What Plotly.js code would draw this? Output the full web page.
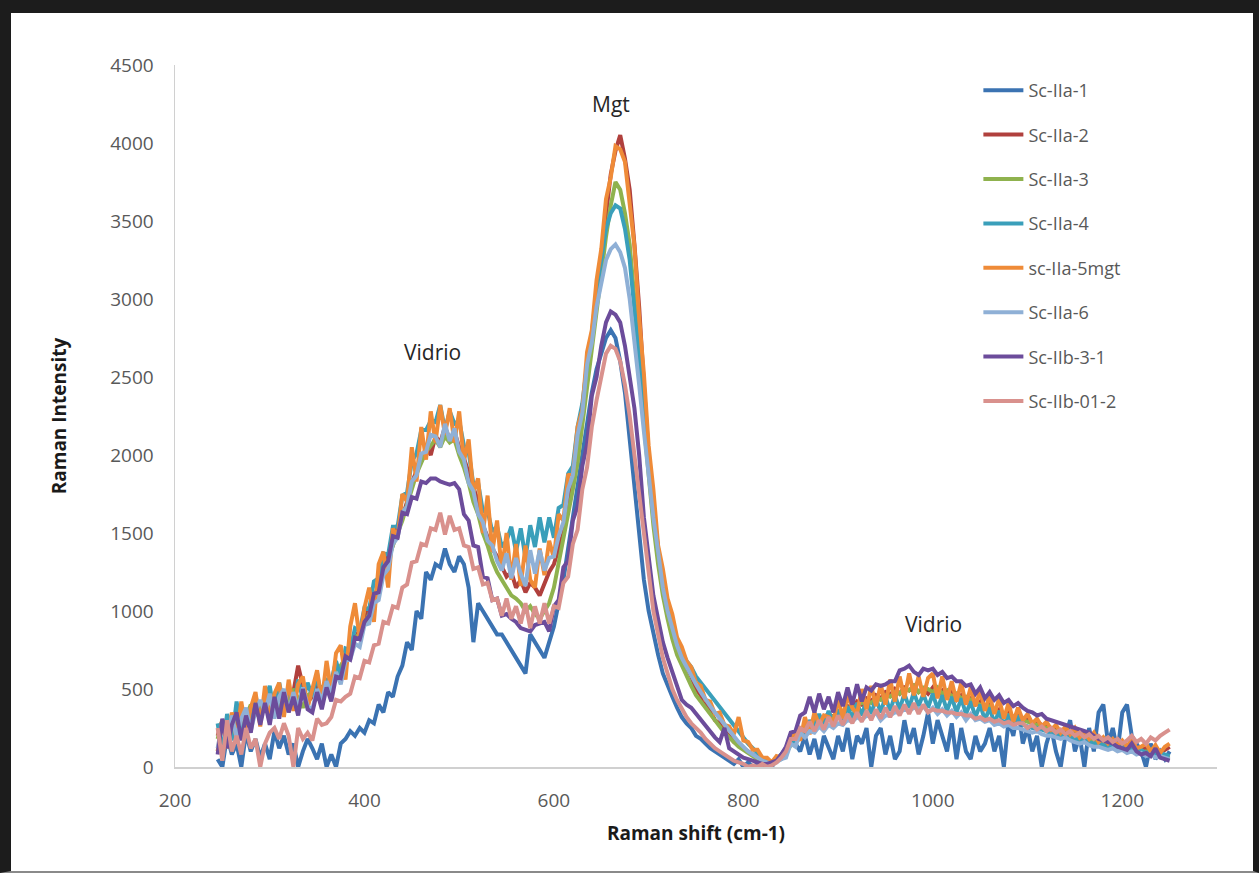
<!DOCTYPE html>
<html>
<head>
<meta charset="utf-8">
<script src="https://cdn.plot.ly/plotly-3.0.1.min.js"></script>
<style>
  html, body { margin: 0; padding: 0; background: #ffffff; }
  #wrap { position: relative; width: 1259px; height: 873px; overflow: hidden; }
  #chart { position: absolute; left: 0; top: 0; width: 1259px; height: 873px; }
  #frame { position: absolute; left: 0; top: 0; width: 1259px; height: 873px; box-sizing: border-box;
           border-top: 13px solid #1c1c1c; border-left: 11px solid #1c1c1c; border-right: 6px solid #1c1c1c;
           border-bottom: 2px solid #8a8a8a; pointer-events: none; }
</style>
</head>
<body>
<div id="wrap"><div id="chart"></div><div id="frame"></div></div>
<script>
// Raman shift (cm-1)
const ramanShift = [
  245,250,255,260,265,270,275,280,285,290,
  295,300,305,310,315,320,325,330,335,340,
  345,350,355,360,365,370,375,380,385,390,
  395,400,405,410,415,420,425,430,435,440,
  445,450,455,460,465,470,475,480,485,490,
  495,500,505,510,515,520,525,530,535,540,
  545,550,555,560,565,570,575,580,585,590,
  595,600,605,610,615,620,625,630,635,640,
  645,650,655,660,665,670,675,680,685,690,
  695,700,705,710,715,720,725,730,735,740,
  745,750,755,760,765,770,775,780,785,790,
  795,800,805,810,815,820,825,830,835,840,
  845,850,855,860,865,870,875,880,885,890,
  895,900,905,910,915,920,925,930,935,940,
  945,950,955,960,965,970,975,980,985,990,
  995,1000,1005,1010,1015,1020,1025,1030,1035,1040,
  1045,1050,1055,1060,1065,1070,1075,1080,1085,1090,
  1095,1100,1105,1110,1115,1120,1125,1130,1135,1140,
  1145,1150,1155,1160,1165,1170,1175,1180,1185,1190,
  1195,1200,1205,1210,1215,1220,1225,1230,1235,1240,
  1245,1250];

const seriesNames = ["Sc-IIa-1","Sc-IIa-2","Sc-IIa-3","Sc-IIa-4","sc-IIa-5mgt","Sc-IIa-6","Sc-IIb-3-1","Sc-IIb-01-2"];

const scIIa1 = [
  50,0,200,80,150,0,220,100,180,60,
  150,50,230,120,200,80,150,0,100,180,
  120,50,150,0,80,0,150,180,230,200,
  250,220,300,280,400,350,480,450,580,650,
  800,750,1000,950,1250,1200,1300,1280,1400,1300,
  1250,1350,1300,1150,800,1050,1000,950,900,850,
  850,800,750,700,650,600,850,800,750,700,
  800,900,1050,1200,1400,1600,1800,2000,2200,2400,
  2550,2650,2750,2800,2750,2600,2400,2100,1800,1500,
  1200,1000,850,720,600,520,450,380,320,280,
  250,200,180,150,120,100,80,60,40,20,
  50,0,30,0,20,0,30,0,50,80,
  120,200,150,100,200,80,180,50,200,120,
  50,200,100,250,50,200,150,250,0,200,
  250,80,200,50,100,300,150,250,80,200,
  350,150,300,200,100,280,50,250,100,50,
  200,100,150,250,100,200,0,300,200,380,
  150,250,100,200,0,150,250,100,0,200,
  300,100,200,0,250,100,350,400,150,250,
  100,350,400,200,150,100,0,150,50,100,
  50,100];

const scIIa2 = [
  200,300,240,330,260,300,350,280,380,320,
  400,330,450,380,420,360,480,650,520,420,
  450,520,430,560,500,620,580,700,760,820,
  880,940,1020,1100,1150,1280,1350,1420,1550,1600,
  1700,1820,1900,1960,2050,2000,2120,2080,2180,2100,
  2150,2050,1980,1880,1780,1700,1550,1480,1400,1350,
  1280,1220,1250,1150,1200,1120,1180,1150,1100,1180,
  1250,1300,1400,1500,1680,1850,2000,2250,2500,2750,
  3000,3300,3550,3800,3950,4050,3900,3700,3350,2950,
  2450,2000,1680,1380,1180,1030,900,800,720,640,
  580,500,460,400,360,300,280,230,200,160,
  140,120,100,80,60,40,30,20,40,60,
  100,150,200,230,260,280,300,290,320,340,
  320,360,350,390,380,420,400,440,420,460,
  440,480,460,500,470,510,490,520,480,500,
  470,510,460,490,450,480,430,460,420,440,
  400,420,380,400,360,370,340,350,320,330,
  300,310,280,290,270,260,250,240,230,220,
  210,220,190,200,180,190,170,160,150,160,
  140,150,130,140,120,110,120,100,110,90,
  110,130];

const scIIa3 = [
  180,300,220,280,350,260,320,400,330,380,
  420,350,460,380,480,420,500,440,380,460,
  480,430,520,470,560,600,650,700,780,820,
  860,920,980,1080,1120,1250,1320,1420,1500,1580,
  1680,1780,1880,1950,2020,2060,2100,2050,2120,2080,
  2100,2000,1920,1820,1700,1620,1500,1420,1320,1250,
  1200,1150,1100,1080,1050,1000,1030,980,950,1000,
  1050,1150,1300,1450,1600,1780,1950,2200,2450,2700,
  2950,3200,3400,3600,3750,3700,3550,3350,3000,2650,
  2200,1850,1550,1300,1100,950,820,720,650,580,
  520,460,420,370,330,290,260,220,190,160,
  130,110,90,70,50,30,20,30,40,60,
  90,140,180,220,250,270,290,300,310,330,
  320,350,360,380,370,400,410,420,410,440,
  430,460,450,480,470,500,490,520,480,510,
  500,480,510,470,490,450,470,440,450,430,
  410,400,380,390,360,350,340,330,320,310,
  300,290,280,270,260,250,240,230,220,210,
  200,210,190,180,170,160,150,160,140,130,
  130,120,110,120,100,90,100,80,90,70,
  70,60];

const scIIa4 = [
  280,100,340,170,420,230,370,270,460,320,
  430,520,330,540,390,510,370,560,430,540,
  450,600,430,560,550,680,570,760,750,890,
  870,1020,1010,1190,1210,1370,1360,1540,1540,1740,
  1760,1960,2010,2160,2160,2220,2210,2320,2160,2280,
  2200,2220,2060,2020,1810,1820,1640,1640,1510,1540,
  1410,1450,1540,1380,1530,1340,1550,1410,1600,1440,
  1600,1470,1660,1680,1880,1930,2180,2330,2580,2780,
  3050,3250,3450,3550,3600,3580,3450,3250,2950,2650,
  2300,1950,1680,1400,1200,1050,920,820,740,680,
  640,580,540,500,460,420,380,340,300,260,
  220,180,150,120,90,60,40,30,40,50,
  80,170,150,250,210,300,250,340,260,360,
  270,370,290,390,310,410,330,430,340,440,
  350,450,360,460,370,470,380,480,390,470,
  380,470,370,460,360,450,350,440,340,420,
  320,400,300,380,280,360,260,340,250,330,
  270,260,250,250,240,230,220,210,200,210,
  190,180,170,180,160,150,150,140,130,140,
  120,130,110,120,100,110,90,100,80,90,
  80,70];

const scIIa5mgt = [
  100,300,120,350,180,420,230,380,480,260,
  520,300,470,540,320,560,360,530,580,380,
  500,620,420,680,480,730,780,560,900,1050,
  820,1020,1150,930,1300,1380,1150,1530,1470,1750,
  1700,2050,1830,2180,1970,2280,2080,2320,2130,2300,
  2080,2280,1960,2100,1760,1850,1500,1740,1380,1580,
  1260,1500,1200,1430,1160,1420,1200,1150,1400,1230,
  1450,1340,1620,1580,1870,1880,2180,2290,2660,2800,
  3120,3320,3640,3780,3980,3960,3880,3620,3340,2880,
  2520,2060,1780,1420,1270,1080,980,830,770,680,
  640,540,520,430,420,340,350,270,260,210,
  320,170,160,110,110,60,60,30,70,60,
  100,200,210,170,320,210,350,270,330,320,
  290,440,310,460,380,340,500,370,520,390,
  530,400,560,420,580,440,600,460,580,450,
  570,600,440,580,430,550,420,540,400,510,
  390,490,360,460,340,440,310,410,290,380,
  300,340,280,310,260,290,240,270,220,260,
  210,250,190,220,180,220,160,190,150,180,
  140,170,130,180,120,130,150,100,140,90,
  130,150];

const scIIa6 = [
  120,290,150,330,190,310,380,230,360,430,
  350,470,310,450,500,350,480,370,510,390,
  370,500,420,550,470,610,530,680,690,790,
  770,910,920,1050,1070,1230,1270,1430,1470,1630,
  1670,1830,1870,2010,2020,2130,2120,2050,2200,2090,
  2170,2020,1970,1820,1770,1620,1570,1450,1420,1320,
  1260,1370,1210,1340,1240,1160,1390,1240,1390,1260,
  1340,1350,1480,1570,1780,1870,2130,2270,2580,2720,
  2950,3100,3250,3320,3350,3300,3200,3000,2750,2450,
  2150,1850,1600,1380,1150,1000,880,780,700,640,
  580,530,480,430,390,350,310,270,230,190,
  160,130,100,80,60,40,30,20,30,50,
  60,150,130,220,190,230,220,260,230,270,
  250,280,270,300,290,320,300,330,320,350,
  300,330,330,350,350,370,360,380,370,390,
  350,380,340,370,330,360,320,350,300,340,
  300,310,290,300,270,280,260,270,250,250,
  240,230,220,230,210,200,200,190,180,190,
  170,160,150,160,140,130,130,120,110,120,
  100,110,90,100,80,90,70,80,60,70,
  60,50];

const scIIb31 = [
  80,310,120,270,350,170,330,220,410,270,
  410,270,450,310,480,350,450,330,500,370,
  350,480,370,510,420,580,570,710,690,830,
  820,930,970,1110,1120,1280,1320,1480,1470,1630,
  1620,1730,1720,1830,1820,1850,1850,1830,1820,1810,
  1820,1780,1620,1580,1420,1410,1220,1210,1070,1080,
  970,980,950,930,890,880,870,910,920,930,
  870,1030,1070,1280,1320,1580,1670,1930,2070,2380,
  2500,2700,2850,2920,2900,2850,2700,2500,2300,2000,
  1600,1350,1100,950,800,700,600,520,430,400,
  380,340,300,260,220,190,160,250,120,100,
  80,60,50,40,30,20,20,30,40,80,
  130,220,230,330,350,450,350,470,370,450,
  350,480,390,510,400,530,420,510,490,530,
  520,530,550,550,620,630,650,610,590,630,
  620,630,590,610,570,580,550,550,520,530,
  470,510,440,480,430,460,410,430,390,410,
  380,360,350,330,340,310,300,290,280,270,
  260,250,240,230,220,200,180,170,160,150,
  130,120,110,150,100,80,90,70,120,60,
  50,40];

const scIIb012 = [
  250,40,300,100,200,80,250,120,180,0,
  150,220,250,180,280,200,0,250,180,220,
  170,310,270,280,320,430,420,450,470,580,
  570,680,670,780,790,930,920,1030,1020,1150,
  1170,1310,1320,1430,1420,1530,1520,1630,1490,1610,
  1520,1530,1420,1410,1270,1280,1170,1180,1070,1080,
  970,1080,950,1030,920,1050,890,1030,920,1050,
  920,1030,1020,1180,1220,1430,1520,1780,1920,2180,
  2350,2500,2650,2700,2680,2600,2450,2250,2000,1700,
  1450,1200,1000,850,700,600,500,430,370,320,
  280,250,220,180,150,120,100,80,60,40,
  30,20,0,10,0,20,0,10,30,60,
  100,180,180,250,230,290,230,300,240,320,
  260,330,270,340,280,350,290,360,300,370,
  310,380,320,390,330,400,340,410,340,400,
  350,370,360,360,350,350,340,340,330,330,
  310,320,300,310,290,300,280,290,270,280,
  280,250,270,240,260,230,250,220,240,210,
  230,200,220,190,210,180,200,170,190,160,
  180,150,170,200,160,180,150,190,170,200,
  220,240];

const allSeries = [scIIa1, scIIa2, scIIa3, scIIa4, scIIa5mgt, scIIa6, scIIb31, scIIb012];
const colors = ["#3b73b2","#b0403d","#8fb24e","#3a9fba","#ef8b38","#8fb0d6","#6c4c9b","#d9918d"];

const peakLabels = ["Vidrio","Mgt","Vidrio"];
const peakLabelX = [472, 660, 1001];
const peakLabelY = [2660, 4250, 917];

const traces = allSeries.map((ys, i) => ({
  type: "scatter",
  mode: "lines",
  x: ramanShift,
  y: ys,
  name: seriesNames[i],
  legendgroup: "g" + i,
  line: { color: colors[i], width: 4 },
  hoverinfo: "x+y+name"
}));

const annotations = peakLabels.map((t, i) => ({
  x: peakLabelX[i], y: peakLabelY[i], xref: "x", yref: "y",
  text: t, showarrow: false,
  font: { family: "Open Sans, sans-serif", size: 21, color: "#262626" }
}));

const layout = {
  width: 1259, height: 873,
  paper_bgcolor: "rgba(0,0,0,0)", plot_bgcolor: "#ffffff",
  margin: { l: 175, r: 42, t: 65, b: 106, pad: 0 },
  font: { family: "Open Sans, sans-serif", color: "#595959" },
  xaxis: {
    range: [200, 1300], tickvals: [200,400,600,800,1000,1200],
    showgrid: false, zeroline: false, showline: true, linecolor: "#d0d0d0", linewidth: 1.5,
    ticks: "", ticklabelstandoff: 16,
    tickfont: { size: 19, color: "#595959" },
    title: { text: "Raman shift (cm-1)", font: { size: 19, color: "#1a1a1a", weight: "bold" }, standoff: 14 }
  },
  yaxis: {
    range: [0, 4500], dtick: 500,
    showgrid: false, zeroline: false, showline: true, linecolor: "#d0d0d0", linewidth: 1.5,
    ticks: "", ticklabelstandoff: 16,
    tickfont: { size: 19, color: "#595959" },
    title: { text: "Raman Intensity", font: { size: 19, color: "#1a1a1a", weight: "bold" }, standoff: 38 }
  },
  legend: {
    x: 0.771, xanchor: "left", y: 0.99, yanchor: "top",
    bgcolor: "rgba(255,255,255,0)", borderwidth: 0,
    font: { size: 18, color: "#595959" },
    tracegroupgap: 18, itemwidth: 40
  },
  showlegend: true,
  annotations: annotations
};

Plotly.newPlot("chart", traces, layout, { displayModeBar: false, staticPlot: true });
</script>
</body>
</html>
